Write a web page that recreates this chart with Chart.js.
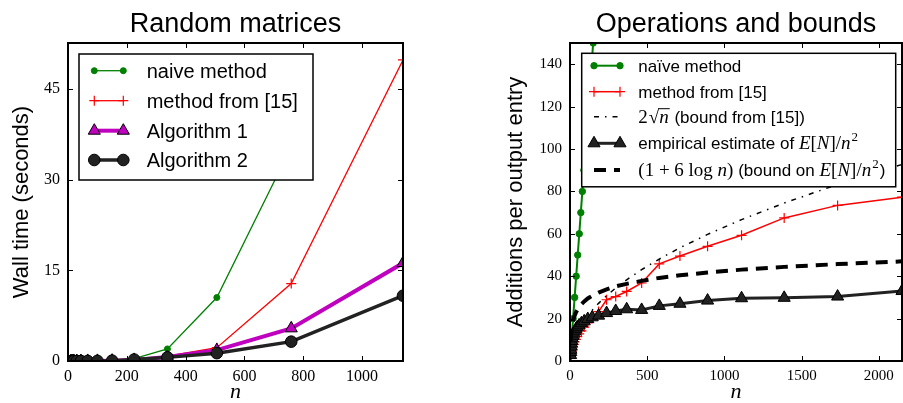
<!DOCTYPE html>
<html><head><meta charset="utf-8">
<script src="https://cdn.jsdelivr.net/npm/chart.js@4"></script>
<style>
html,body{margin:0;padding:0;background:#fff;overflow:hidden;width:903px;height:403px;position:relative;}
#c1{position:absolute;left:0;top:0;}
#c2{position:absolute;left:490px;top:0;}
</style></head><body>
<canvas id="c1" width="471" height="403"></canvas>
<canvas id="c2" width="492" height="403"></canvas>
<script>
// ---------- Left chart: Random matrices ----------
const leftTitle = 'Random matrices';
const leftYLabel = 'Wall time (seconds)';
const leftN = [10, 15, 20, 30, 44, 67, 100, 150, 225, 338, 506, 759, 1139];
const leftNaive = [0, 0, 0, 0, 0.01, 0.02, 0.05, 0.12, 0.4, 2.0, 10.5, 35.4, null];
const leftMethod15 = [0, 0, 0, 0, 0, 0.01, 0.03, 0.08, 0.2, 0.8, 2.2, 12.8, 49.8];
const leftAlg1 = [0, 0, 0, 0, 0, 0.01, 0.02, 0.06, 0.18, 0.65, 1.8, 5.4, 16.2];
const leftAlg2 = [0, 0, 0, 0, 0, 0.01, 0.02, 0.06, 0.25, 0.6, 1.3, 3.2, 10.8];
const leftXTicks = [0, 200, 400, 600, 800, 1000];
const leftYTicks = [0, 15, 30, 45];

// ---------- Right chart: Operations and bounds ----------
const rightTitle = 'Operations and bounds';
const rightYLabel = 'Additions per output entry';
const rightNaiveN = [10, 20, 30, 40, 50, 60, 70, 80, 90, 100, 110, 120, 130, 140, 150];
const rightNaive = [10, 20, 30, 40, 50, 60, 70, 80, 90, 100, 110, 120, 130, 140, 150];
const rightN = [4, 5, 6, 8, 10, 12, 15, 19, 24, 30, 38, 47, 59, 74, 92, 115, 144, 185, 237, 296, 367, 464, 578, 712, 891, 1111, 1387, 1733, 2150];
const rightMethod15 = [1.5, 2, 2.5, 3.2, 4, 4.7, 5.6, 6.7, 7.8, 9, 10.2, 11.5, 12.8, 14.2, 16, 18, 20.5, 23.3, 28.9, 30.4, 32.8, 36.8, 45.8, 49.5, 54.1, 59.3, 67.5, 73.4, 77.3];
const rightSqrtBound = [4.0, 4.5, 4.9, 5.7, 6.3, 6.9, 7.7, 8.7, 9.8, 11.0, 12.3, 13.7, 15.4, 17.2, 19.2, 21.4, 24.0, 27.2, 30.8, 34.4, 38.3, 43.1, 48.1, 53.4, 59.7, 66.7, 74.5, 83.3, 92.7];
const rightEmpirical = [2.8, 4.2, 5.3, 6.8, 8.2, 9.4, 10.7, 11.9, 13.0, 14.0, 15.0, 15.9, 16.8, 17.8, 18.7, 19.8, 20.6, 21.4, 22.6, 23.6, 24.4, 24.1, 26.0, 27.0, 28.5, 29.6, 29.8, 30.4, 33.0];
const rightLogBound = [9.3, 10.7, 11.8, 13.5, 14.8, 15.9, 17.2, 18.7, 20.1, 21.4, 22.8, 24.1, 25.5, 26.8, 28.1, 29.5, 30.8, 32.3, 33.8, 35.2, 36.4, 37.8, 39.2, 40.4, 41.7, 43.1, 44.4, 45.7, 47.0];
const rightXTicks = [0, 500, 1000, 1500, 2000];
const rightYTicks = [0, 20, 40, 60, 80, 100, 120, 140];

const SANS = '"Liberation Sans", Arial, sans-serif';
const SERIF = '"Liberation Serif", "Times New Roman", serif';

function pts(xs, ys) { return xs.map((x, i) => ({ x: x, y: ys[i] })); }
function ds(label, xs, ys, o) {
  return Object.assign({ label: label, data: pts(xs, ys), tension: 0, fill: false, clip: 0, spanGaps: false,
    borderDash: [], pointBorderWidth: 1 }, o);
}

// frame + inward ticks on all four sides (matplotlib classic look)
const framePlugin = {
  id: 'mplFrame',
  afterDraw(chart) {
    const { ctx, chartArea: a } = chart;
    const x = chart.scales.x, y = chart.scales.y;
    ctx.save();
    ctx.strokeStyle = '#000';
    ctx.lineWidth = 1;
    const L = 5;
    ctx.beginPath();
    for (const t of x.ticks) {
      const px = Math.round(x.getPixelForValue(t.value)) + 0.5;
      ctx.moveTo(px, a.bottom); ctx.lineTo(px, a.bottom - L);
      ctx.moveTo(px, a.top); ctx.lineTo(px, a.top + L);
    }
    for (const t of y.ticks) {
      const py = Math.round(y.getPixelForValue(t.value)) + 0.5;
      ctx.moveTo(a.left, py); ctx.lineTo(a.left + L, py);
      ctx.moveTo(a.right, py); ctx.lineTo(a.right - L, py);
    }
    ctx.stroke();
    ctx.lineWidth = 2;
    ctx.strokeRect(a.left, a.top, a.right - a.left, a.bottom - a.top);
    ctx.restore();
  }
};

function drawSample(ctx, d, x0, x1, y) {
  ctx.save();
  ctx.strokeStyle = d.borderColor;
  ctx.lineWidth = d.borderWidth;
  ctx.setLineDash(d.borderDash || []);
  ctx.lineCap = 'butt';
  ctx.beginPath(); ctx.moveTo(x0, y); ctx.lineTo(x1, y); ctx.stroke();
  ctx.setLineDash([]);
  if (d.pointRadius > 0) {
    for (const x of [x0, x1]) {
      ctx.fillStyle = d.pointBackgroundColor;
      ctx.strokeStyle = d.pointBorderColor;
      ctx.lineWidth = d.pointBorderWidth;
      Chart.helpers.drawPoint(ctx, { pointStyle: d.pointStyle, radius: d.pointRadius, rotation: 0, borderWidth: d.pointBorderWidth }, x, y);
    }
  }
  ctx.restore();
}

function drawSegs(ctx, segs, x, y) {
  ctx.save();
  ctx.fillStyle = '#000';
  ctx.textBaseline = 'alphabetic';
  ctx.textAlign = 'left';
  for (const s of segs) {
    ctx.font = s.f;
    const yy = y + (s.dy || 0);
    const x0 = x + (s.dx || 0);
    ctx.fillText(s.t, x0, yy);
    const w = ctx.measureText(s.t).width;
    if (s.over) {
      ctx.strokeStyle = '#000'; ctx.lineWidth = 1;
      ctx.beginPath(); ctx.moveTo(x0 - 1, yy - s.over); ctx.lineTo(x0 + w + 1, yy - s.over); ctx.stroke();
    }
    x = x0 + w;
  }
  ctx.restore();
}

const legendPlugin = {
  id: 'mplLegend',
  afterDatasetsDraw(chart, args, o) {
    if (!o || !o.entries) return;
    const { ctx, chartArea: a } = chart;
    const bx = a.left + o.x, by = a.top + o.y;
    ctx.save();
    ctx.fillStyle = '#fff';
    ctx.fillRect(bx, by, o.w, o.h);
    ctx.strokeStyle = '#000';
    ctx.lineWidth = 1.5;
    ctx.strokeRect(bx, by, o.w, o.h);
    ctx.restore();
    o.entries.forEach((e, i) => {
      const cy = by + o.rows[i];
      drawSample(ctx, chart.data.datasets[e.ds], bx + o.s0, bx + o.s1, cy);
      drawSegs(ctx, e.segs, bx + o.tx, cy + o.base);
    });
  }
};

function makeScales(xMax, xTicks, yMax, yTicks, yTitle, yWidth, yTitlePad, rightWidth, tickSize) {
  const tickFont = { family: SERIF, size: tickSize };
  return {
    x: {
      type: 'linear', position: 'bottom', min: 0, max: xMax,
      afterBuildTicks: s => { s.ticks = xTicks.map(v => ({ value: v })); },
      afterFit: s => { s.height = 42; },
      grid: { display: false, drawTicks: false }, border: { display: false },
      ticks: { font: tickFont, color: '#000', padding: 6, maxRotation: 0, autoSkip: false, callback: v => String(v) },
      title: { display: true, text: 'n', color: '#000', font: { family: SERIF, style: 'italic', size: 22, lineHeight: 1 }, padding: { top: 0, bottom: 0 } }
    },
    y: {
      type: 'linear', position: 'left', min: 0, max: yMax,
      afterBuildTicks: s => { s.ticks = yTicks.map(v => ({ value: v })); },
      afterFit: s => { s.width = yWidth; },
      grid: { display: false, drawTicks: false }, border: { display: false },
      ticks: { font: tickFont, color: '#000', padding: 8, autoSkip: false, callback: v => String(v) },
      title: { display: true, text: yTitle, color: '#000', font: { family: SANS, size: 22, lineHeight: 1.2 }, padding: { top: yTitlePad, bottom: 0 } }
    },
    yr: {
      type: 'linear', position: 'right', display: true,
      grid: { display: false, drawTicks: false }, border: { display: false },
      ticks: { display: false },
      afterFit: s => { s.width = rightWidth; }
    }
  };
}

function titleOpts(text) {
  return { display: true, text: text, color: '#000', font: { family: SANS, size: 27, weight: 'normal', lineHeight: 1.2 }, padding: { top: 8, bottom: 2.6 } };
}

Chart.defaults.font.family = SANS;
Chart.defaults.color = '#000';

const GREEN = '#008000', RED = '#ff0000', MAG = '#bf00bf', DARK = '#222222';

// ----- left chart -----
new Chart(document.getElementById('c1'), {
  type: 'line',
  data: {
    datasets: [
      ds('naive method', leftN, leftNaive, { order: 4, borderColor: GREEN, borderWidth: 1.3, pointStyle: 'circle', pointRadius: 3, pointBackgroundColor: GREEN, pointBorderColor: GREEN }),
      ds('method from [15]', leftN, leftMethod15, { order: 3, borderColor: RED, borderWidth: 1.3, pointStyle: 'cross', pointRadius: 5, pointBackgroundColor: RED, pointBorderColor: RED, pointBorderWidth: 1.2 }),
      ds('Algorithm 1', leftN, leftAlg1, { order: 2, borderColor: MAG, borderWidth: 4, pointStyle: 'triangle', pointRadius: 7, pointBackgroundColor: MAG, pointBorderColor: '#000', pointBorderWidth: 1 }),
      ds('Algorithm 2', leftN, leftAlg2, { order: 1, borderColor: DARK, borderWidth: 3.5, pointStyle: 'circle', pointRadius: 5.8, pointBackgroundColor: DARK, pointBorderColor: '#000', pointBorderWidth: 1 })
    ]
  },
  options: {
    responsive: false, animation: false, events: [], devicePixelRatio: 1,
    layout: { padding: 0 },
    scales: makeScales(1139, leftXTicks, 52.6, leftYTicks, leftYLabel, 68, 9, 68, 16),
    plugins: {
      legend: { display: false }, tooltip: { enabled: false },
      title: titleOpts(leftTitle),
      mplLegend: {
        x: 11, y: 11, w: 234, h: 126, rows: [16.7, 46.7, 76.7, 106], s0: 15.3, s1: 44.3, tx: 67.7, base: 7,
        entries: [
          { ds: 0, segs: [{ t: 'naive method', f: '20px ' + SANS }] },
          { ds: 1, segs: [{ t: 'method from [15]', f: '20px ' + SANS }] },
          { ds: 2, segs: [{ t: 'Algorithm 1', f: '20px ' + SANS }] },
          { ds: 3, segs: [{ t: 'Algorithm 2', f: '20px ' + SANS }] }
        ]
      }
    }
  },
  plugins: [legendPlugin, framePlugin]
});

// ----- right chart -----
const S17 = '17px ' + SANS;
const M19 = '19px ' + SERIF;
const MI19 = 'italic 19px ' + SERIF;
const SUP = '13px ' + SERIF;
new Chart(document.getElementById('c2'), {
  type: 'line',
  data: {
    datasets: [
      ds('naïve method', rightNaiveN, rightNaive, { order: 5, borderColor: GREEN, borderWidth: 2, pointStyle: 'circle', pointRadius: 3.2, pointBackgroundColor: GREEN, pointBorderColor: GREEN }),
      ds('method from [15]', rightN, rightMethod15, { order: 4, borderColor: RED, borderWidth: 1.5, pointStyle: 'cross', pointRadius: 5, pointBackgroundColor: RED, pointBorderColor: RED, pointBorderWidth: 1.2 }),
      ds('2√n (bound from [15])', rightN, rightSqrtBound, { order: 3, borderColor: '#000', borderWidth: 1.5, borderDash: [5, 6, 1.5, 6], pointRadius: 0 }),
      ds('empirical estimate of E[N]/n²', rightN, rightEmpirical, { order: 2, borderColor: DARK, borderWidth: 3, pointStyle: 'triangle', pointRadius: 7, pointBackgroundColor: DARK, pointBorderColor: '#000', pointBorderWidth: 1 }),
      ds('(1 + 6 log n) (bound on E[N]/n²)', rightN, rightLogBound, { order: 1, borderColor: '#000', borderWidth: 4, borderDash: [12, 8], pointRadius: 0 })
    ]
  },
  options: {
    responsive: false, animation: false, events: [], devicePixelRatio: 1,
    layout: { padding: 0 },
    scales: makeScales(2150, rightXTicks, 150, rightYTicks, rightYLabel, 80, 12.5, 80, 15),
    plugins: {
      legend: { display: false }, tooltip: { enabled: false },
      title: titleOpts(rightTitle),
      mplLegend: {
        x: 11.7, y: 10.3, w: 314, h: 133.5, rows: [12.4, 38.4, 63.4, 90, 116.7], s0: 12.3, s1: 38.3, tx: 56.6, base: 6,
        entries: [
          { ds: 0, segs: [{ t: 'naïve method', f: S17 }] },
          { ds: 1, segs: [{ t: 'method from [15]', f: S17 }] },
          { ds: 2, segs: [{ t: '2', f: M19 }, { t: '√', f: M19, dx: 1 }, { t: 'n', f: MI19, over: 14 }, { t: ' (bound from [15])', f: S17, dx: 1 }] },
          { ds: 3, segs: [{ t: 'empirical estimate of ', f: S17 }, { t: 'E', f: MI19 }, { t: '[', f: M19 }, { t: 'N', f: MI19 }, { t: ']/', f: M19 }, { t: 'n', f: MI19 }, { t: '2', f: SUP, dy: -8, dx: 1 }] },
          { ds: 4, segs: [{ t: '(1 + 6 log ', f: M19 }, { t: 'n', f: MI19 }, { t: ')', f: M19 }, { t: ' (bound on ', f: S17 }, { t: 'E', f: MI19 }, { t: '[', f: M19 }, { t: 'N', f: MI19 }, { t: ']/', f: M19 }, { t: 'n', f: MI19 }, { t: '2', f: SUP, dy: -8, dx: 1 }, { t: ')', f: S17, dx: 1 }] }
        ]
      }
    }
  },
  plugins: [legendPlugin, framePlugin]
});
</script>
</body></html>
